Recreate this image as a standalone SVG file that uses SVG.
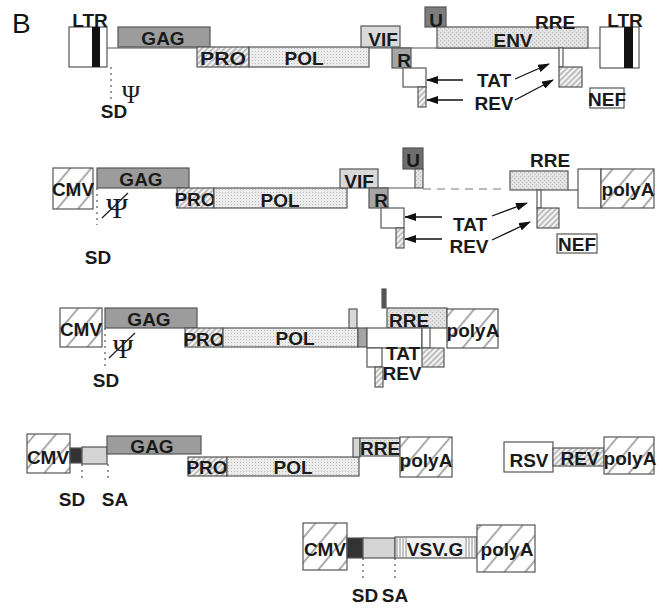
<svg xmlns="http://www.w3.org/2000/svg" width="663" height="608" viewBox="0 0 663 608">
<defs>
<style>
.b{stroke:#555;stroke-width:1.2}
.t{font-family:"Liberation Sans",Arial,sans-serif;font-weight:bold;font-size:19px;fill:#1a1a1a;text-anchor:middle}
.ln{stroke:#555;stroke-width:1.2;fill:none}
.dt{stroke:#555;stroke-width:1.2;stroke-dasharray:2 4;fill:none}
.ar{stroke:#111;stroke-width:1.3;fill:none;marker-end:url(#ah)}
.psi{font-family:"Liberation Serif","DejaVu Serif",serif;fill:#1a1a1a;text-anchor:middle}
.gag{fill:#9c9c9c}
.vif{fill:#d9d9d9}
.r{fill:#a5a5a5}
.lg{fill:#d4d4d4}
.dk{fill:#333}
.w{fill:#fff}
.h{fill:url(#hatch)}
.d{fill:url(#dots)}
.x{fill:url(#xhatch)}
.s{fill:url(#sparse)}
</style>
<pattern id="hatch" patternUnits="userSpaceOnUse" width="4" height="4" patternTransform="rotate(45)">
<rect width="4" height="4" fill="#f4f4f4"/><line x1="1" y1="0" x2="1" y2="4" stroke="#888" stroke-width="1"/>
</pattern>
<pattern id="dots" patternUnits="userSpaceOnUse" width="3" height="3">
<rect width="3" height="3" fill="#ececec"/><rect width="1" height="1" fill="#b8b8b8"/>
</pattern>
<pattern id="xhatch" patternUnits="userSpaceOnUse" width="4" height="4">
<rect width="4" height="4" fill="#e4e4e4"/><rect width="1.2" height="1.2" fill="#bdbdbd"/><rect x="2" y="2" width="1.2" height="1.2" fill="#bdbdbd"/>
</pattern>
<pattern id="sparse" patternUnits="userSpaceOnUse" width="16" height="16" patternTransform="rotate(40)">
<rect width="16" height="16" fill="#fff"/><line x1="2" y1="0" x2="2" y2="16" stroke="#444" stroke-width="0.9"/>
</pattern>
<pattern id="vstripe" patternUnits="userSpaceOnUse" width="3" height="3">
<rect width="3" height="3" fill="#fff"/><line x1="1" y1="0" x2="1" y2="3" stroke="#666" stroke-width="0.8"/>
</pattern>
<marker id="ah" markerWidth="12" markerHeight="8" refX="11" refY="4" orient="auto" markerUnits="userSpaceOnUse">
<path d="M0,0 L12,4 L0,8 z" fill="#111"/>
</marker>
</defs>
<rect width="663" height="608" fill="#fff"/>
<text x="12" y="33" font-family="Liberation Sans,Arial,sans-serif" font-size="28" fill="#111">B</text>

<g id="connectors">
<line class="ln" x1="107" y1="48" x2="600" y2="48"/>
<line class="dt" x1="111" y1="67" x2="111" y2="100"/>
<line class="ar" x1="463" y1="80" x2="427" y2="80"/>
<line class="ar" x1="463" y1="100" x2="427" y2="100"/>
<line class="ar" x1="515" y1="79" x2="549" y2="64"/>
<line class="ar" x1="515" y1="100" x2="553" y2="80"/>
<line class="ln" x1="378" y1="188" x2="415" y2="188"/>
<line x1="423" y1="189" x2="505" y2="189" stroke="#bbb" stroke-width="2" stroke-dasharray="8 6"/>
<line class="ln" x1="568" y1="190" x2="578" y2="190"/>
<line class="dt" x1="97" y1="188" x2="97" y2="225"/>
<line class="ar" x1="442" y1="217" x2="405" y2="217"/>
<line class="ar" x1="442" y1="239" x2="405" y2="239"/>
<line class="ar" x1="492" y1="216" x2="527" y2="203"/>
<line class="ar" x1="492" y1="240" x2="530" y2="222"/>
<line class="dt" x1="105" y1="328" x2="105" y2="367"/>
<line class="dt" x1="82" y1="464" x2="82" y2="482"/>
<line class="dt" x1="108" y1="464" x2="108" y2="482"/>
<line class="dt" x1="363" y1="558" x2="363" y2="580"/>
<line class="dt" x1="395" y1="558" x2="395" y2="580"/>
</g>

<g id="row1">
<g id="r1-ltr-left"><rect class="b w" x="69" y="27" width="38" height="40"/><rect x="92" y="27" width="8" height="40" fill="#111"/><text class="t" x="90" y="27">LTR</text></g>
<g id="r1-gag"><rect class="b gag" x="118" y="27" width="92" height="20"/><text class="t" x="163" y="45">GAG</text></g>
<g id="r1-pro"><rect class="b h" x="197" y="47" width="52" height="20"/><text class="t" x="223" y="65" textLength="46" lengthAdjust="spacingAndGlyphs">PRO</text></g>
<g id="r1-pol"><rect class="b d" x="249" y="47" width="120" height="20"/><text class="t" x="304" y="65">POL</text></g>
<g id="r1-vif"><rect class="b vif" x="361" y="26" width="39" height="21"/><text class="t" x="383" y="46">VIF</text></g>
<g id="r1-r"><rect class="b r" x="392" y="48" width="19" height="20"/><text class="t" x="404" y="67">R</text></g>
<g id="r1-tat"><rect class="b w" x="403" y="68" width="23" height="19"/></g>
<g id="r1-rev"><rect class="b h" x="418" y="87" width="8" height="20"/></g>
<g id="r1-u"><rect class="b" fill="#7d7d7d" x="425" y="7" width="21" height="20"/><text class="t" x="436" y="27">U</text></g>
<g id="r1-env"><rect class="b x" x="437" y="27" width="151" height="21"/><text class="t" x="513" y="47">ENV</text><text class="t" x="555" y="29">RRE</text></g>
<g id="r1-tatrev2"><rect class="b w" x="559" y="48" width="4" height="19"/><rect class="b h" x="559" y="67" width="23" height="20"/></g>
<g id="r1-ltr-right"><rect class="b w" x="600" y="27" width="39" height="41"/><rect x="624" y="27" width="9" height="41" fill="#111"/><text class="t" x="625" y="27">LTR</text></g>
<g id="r1-nef"><rect class="b w" x="590" y="88" width="34" height="20"/><text class="t" x="607" y="106" font-size="17">NEF</text></g>
<g id="r1-labels"><text class="t" x="494" y="87">TAT</text><text class="t" x="494" y="110">REV</text><text class="t" x="114" y="118">SD</text><text class="psi" x="131" y="103" font-size="25">Ψ</text></g>
</g>

<g id="row2">
<g id="r2-cmv"><rect class="b s" x="53" y="168" width="40" height="41"/><text class="t" x="73" y="196" font-size="18">CMV</text></g>
<g id="r2-gag"><rect class="b gag" x="97" y="168" width="92" height="20"/><text class="t" x="141" y="186">GAG</text></g>
<g id="r2-pro"><rect class="b h" x="177" y="188" width="37" height="20"/><text class="t" x="195" y="206">PRO</text></g>
<g id="r2-pol"><rect class="b d" x="214" y="188" width="133" height="20"/><text class="t" x="280" y="207">POL</text></g>
<g id="r2-vif"><rect class="b vif" x="340" y="169" width="38" height="19"/><text class="t" x="359" y="188">VIF</text></g>
<g id="r2-r"><rect class="b r" x="369" y="188" width="19" height="20"/><text class="t" x="381" y="207">R</text></g>
<g id="r2-tat"><rect class="b w" x="381" y="208" width="23" height="20"/><rect class="b h" x="396" y="228" width="8" height="20"/></g>
<g id="r2-u"><rect class="b" fill="#6e6e6e" x="403" y="148" width="20" height="21"/><text class="t" x="413" y="167">U</text><rect class="b x" x="415" y="169" width="8" height="19"/></g>
<g id="r2-rre"><rect class="b x" x="510" y="171" width="58" height="19"/><text class="t" x="550" y="167">RRE</text></g>
<g id="r2-tatrev2"><rect class="b w" x="537" y="190" width="4" height="18"/><rect class="b h" x="537" y="208" width="22" height="20"/></g>
<g id="r2-polya"><rect class="b w" x="578" y="169" width="23" height="39"/><rect class="b s" x="601" y="169" width="53" height="39"/><text class="t" x="628" y="196">polyA</text></g>
<g id="r2-nef"><rect class="b w" x="557" y="234" width="40" height="19"/><text class="t" x="577" y="251">NEF</text></g>
<g id="r2-labels"><text class="t" x="470" y="231">TAT</text><text class="t" x="469" y="253">REV</text><text class="t" x="98" y="264">SD</text><text class="psi" x="117" y="218" font-size="30">Ψ</text><line x1="102" y1="218" x2="128" y2="193" stroke="#222" stroke-width="1.3"/></g>
</g>

<g id="row3">
<g id="r3-cmv"><rect class="b s" x="60" y="308" width="42" height="39"/><text class="t" x="81" y="336" font-size="18">CMV</text></g>
<g id="r3-gag"><rect class="b gag" x="105" y="308" width="92" height="20"/><text class="t" x="149" y="326">GAG</text></g>
<g id="r3-pro"><rect class="b h" x="185" y="328" width="38" height="19"/><text class="t" x="204" y="346">PRO</text></g>
<g id="r3-pol"><rect class="b d" x="223" y="328" width="135" height="19"/><text class="t" x="295" y="345">POL</text></g>
<g id="r3-r"><rect class="b r" x="358" y="328" width="9" height="19"/></g>
<g id="r3-vif"><rect class="b vif" x="349" y="309" width="8" height="19"/></g>
<g id="r3-u"><rect class="b" fill="#555" x="382" y="289" width="4" height="19"/></g>
<g id="r3-rre"><rect class="b x" x="387" y="308" width="60" height="20"/><text class="t" x="409" y="327">RRE</text></g>
<g id="r3-tat"><rect class="b w" x="367" y="328" width="55" height="20"/><rect class="b w" x="367" y="348" width="15" height="19"/><rect class="b h" x="375" y="367" width="8" height="20"/></g>
<g id="r3-tatrev2"><rect class="b w" x="422" y="328" width="8" height="20"/><rect class="b h" x="422" y="348" width="22" height="19"/></g>
<g id="r3-polya"><rect class="b s" x="447" y="309" width="51" height="39"/><text class="t" x="473" y="337">polyA</text></g>
<g id="r3-labels"><text class="t" x="403" y="360" font-size="17">TAT</text><text class="t" x="402" y="380" font-size="17">REV</text><text class="t" x="106" y="387">SD</text><text class="psi" x="123" y="358" font-size="28">Ψ</text><line x1="109" y1="358" x2="135" y2="333" stroke="#222" stroke-width="1.3"/></g>
</g>

<g id="row4">
<g id="r4-cmv"><rect class="b s" x="27" y="434" width="43" height="39"/><text class="t" x="48" y="464" font-size="18">CMV</text></g>
<g id="r4-sd"><rect class="b dk" x="70" y="448" width="12" height="15"/></g>
<g id="r4-sa"><rect class="b lg" x="82" y="447" width="25" height="17"/></g>
<g id="r4-gag"><rect class="b gag" x="107" y="436" width="94" height="18"/><text class="t" x="152" y="453">GAG</text></g>
<g id="r4-pro"><rect class="b h" x="188" y="457" width="39" height="19"/><text class="t" x="207" y="474">PRO</text></g>
<g id="r4-pol"><rect class="b d" x="227" y="457" width="132" height="19"/><text class="t" x="293" y="474">POL</text></g>
<g id="r4-vif"><rect class="b lg" x="353" y="438" width="7" height="19"/></g>
<g id="r4-rre"><rect class="b x" x="360" y="438" width="40" height="18"/><text class="t" x="380" y="455">RRE</text></g>
<g id="r4-polya"><rect class="b s" x="400" y="437" width="52" height="40"/><text class="t" x="426" y="467">polyA</text></g>
<g id="r4-labels"><text class="t" x="72" y="506">SD</text><text class="t" x="115" y="506">SA</text></g>
<g id="r4-rsv"><rect class="b w" x="504" y="442" width="49" height="30"/><text class="t" x="529" y="467" font-size="20">RSV</text></g>
<g id="r4-rev"><rect class="b h" x="553" y="448" width="51" height="18"/><text class="t" x="580" y="465">REV</text></g>
<g id="r4-polya2"><rect class="b s" x="604" y="437" width="50" height="37"/><text class="t" x="630" y="465">polyA</text></g>
</g>

<g id="row5">
<g id="r5-cmv"><rect class="b s" x="303" y="523" width="44" height="47"/><text class="t" x="325" y="556">CMV</text></g>
<g id="r5-sd"><rect class="b dk" x="347" y="538" width="16" height="20"/></g>
<g id="r5-sa"><rect class="b lg" x="363" y="538" width="32" height="20"/></g>
<g id="r5-vsvg"><rect class="b" fill="#f2f2f2" x="395" y="537" width="82" height="21"/><rect x="396" y="538" width="11" height="19" fill="url(#vstripe)"/><rect x="465" y="538" width="11" height="19" fill="url(#vstripe)"/><text class="t" x="435" y="556">VSV.G</text></g>
<g id="r5-polya"><rect class="b s" x="477" y="525" width="58" height="47"/><text class="t" x="507" y="556">polyA</text></g>
<g id="r5-labels"><text class="t" x="365" y="602">SD</text><text class="t" x="395" y="602">SA</text></g>
</g>
</svg>
